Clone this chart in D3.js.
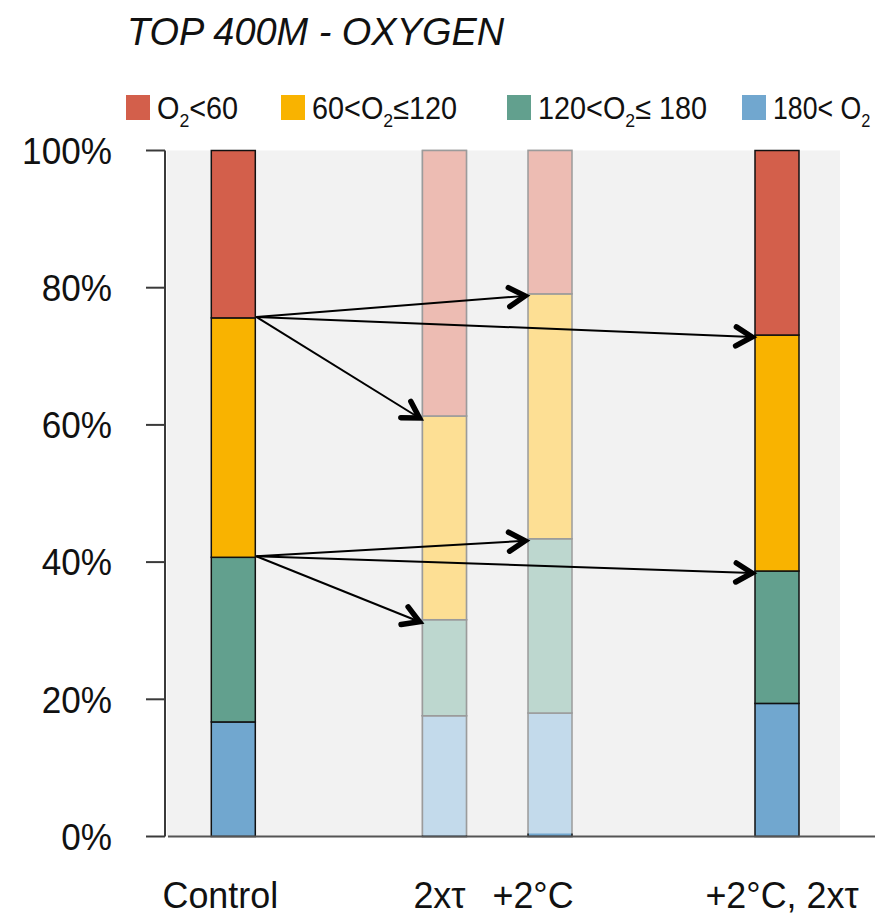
<!DOCTYPE html>
<html>
<head>
<meta charset="utf-8">
<script src="https://cdn.jsdelivr.net/npm/d3@7/dist/d3.min.js"></script>
<style>
  html, body { margin: 0; padding: 0; background: #fff; }
  svg { display: block; font-family: "Liberation Sans", Arial, Helvetica, sans-serif; }
</style>
</head>
<body>
<svg id="chart" width="875" height="918"></svg>
<script>
// Scenario categories and their slot along the x axis
const categories = ["Control", "2x\u03C4", "+2\u00B0C", "+2\u00B0C, 2x\u03C4"];
const slots = [0, 2, 3, 5.15];
const faded = [false, true, true, false];

// Share of the top 400 m (%) in each oxygen class
const o2Low = [24.4, 38.7, 20.9, 26.9];      // O2 < 60
const o2MidLow = [34.9, 29.7, 35.7, 34.4];   // 60 < O2 <= 120
const o2MidHigh = [24.0, 14.0, 25.4, 19.3];  // 120 < O2 <= 180
const o2High = [16.7, 17.6, 18.0, 19.4];     // 180 < O2

const yTicks = [0, 20, 40, 60, 80, 100];
const classColors = ["#d35f4b", "#f9b300", "#62a08e", "#71a7cf"];

const svg = d3.select("#chart");

// Slightly condensed text, drawn in a scaled group
function condensed(parent, x, yPos, sx, size) {
  return parent.append("g")
    .attr("transform", `translate(${x},${yPos}) scale(${sx},1)`)
    .append("text").attr("x", 0).attr("y", 0)
    .attr("font-size", size).attr("fill", "#111");
}

// Title
condensed(svg, 127, 45, 0.96, 39.5).attr("font-style", "italic")
  .text("TOP 400M - OXYGEN");

// Legend
const legendItems = [
  { color: classColors[0], x: 126, sx: 0.93, parts: [["O", 0], ["2", 1], ["<60", 0]] },
  { color: classColors[1], x: 281, sx: 0.93, parts: [["60<O", 0], ["2", 1], ["\u2264120", 0]] },
  { color: classColors[2], x: 507, sx: 0.93, parts: [["120<O", 0], ["2", 1], ["\u2264 180", 0]] },
  { color: classColors[3], x: 742, sx: 0.86, parts: [["180< O", 0], ["2", 1]] }
];
const lg = svg.append("g");
legendItems.forEach(it => {
  lg.append("rect").attr("x", it.x).attr("y", 95).attr("width", 24).attr("height", 25)
    .attr("fill", it.color);
  const t = condensed(lg, it.x + 31, 119, it.sx, 31);
  it.parts.forEach(([s, sub], k) => {
    const ts = t.append("tspan").text(s);
    if (sub) ts.attr("font-size", 19).attr("dy", 8);
    else if (k > 0) ts.attr("dy", -8);
  });
});

// Scales
const y = d3.scaleLinear().domain([0, 100]).range([836.5, 150.5]);
const x = d3.scaleLinear().domain([0, 5.15]).range([233.3, 777]);
const barW = 44;

// Plot panel background
svg.append("rect").attr("x", 167).attr("y", y(100)).attr("width", 673)
  .attr("height", y(0) - y(100)).attr("fill", "#f2f2f2");

// Stacked data, bottom class first
const rows = categories.map((c, i) => ({
  cat: c, i,
  high: o2High[i], midHigh: o2MidHigh[i], midLow: o2MidLow[i], low: o2Low[i]
}));
const keys = ["high", "midHigh", "midLow", "low"];
const keyColor = { high: classColors[3], midHigh: classColors[2], midLow: classColors[1], low: classColors[0] };
const stacked = d3.stack().keys(keys)(rows);

const bars = svg.append("g");
stacked.forEach(layer => {
  bars.selectAll(null).data(layer).enter().append("rect")
    .attr("x", d => x(slots[d.data.i]) - barW / 2)
    .attr("y", d => y(d[1]))
    .attr("width", barW)
    .attr("height", d => y(d[0]) - y(d[1]))
    .attr("fill", keyColor[layer.key])
    .attr("stroke", "#111").attr("stroke-width", 1.5);
});

// Wash out the single-factor scenarios
rows.filter(r => faded[r.i]).forEach(r => {
  bars.append("rect")
    .attr("x", x(slots[r.i]) - barW / 2 - 1)
    .attr("y", y(100) - 1)
    .attr("width", barW + 2)
    .attr("height", y(0) - y(100) - (r.i === 2 ? 2 : 0))
    .attr("fill", "#fff").attr("opacity", 0.58);
});

// Axes
const axisColor = "#3a3a3a";
svg.append("line").attr("x1", 165).attr("x2", 165).attr("y1", y(100)).attr("y2", y(0))
  .attr("stroke", axisColor).attr("stroke-width", 2);
svg.append("line").attr("x1", 168).attr("x2", 875).attr("y1", y(0)).attr("y2", y(0))
  .attr("stroke", "#555").attr("stroke-width", 2.2);
const yAxis = svg.append("g");
yTicks.forEach(v => {
  yAxis.append("line").attr("x1", 146).attr("x2", 165).attr("y1", y(v)).attr("y2", y(v))
    .attr("stroke", axisColor).attr("stroke-width", 2);
  condensed(yAxis, 112, y(v), 0.95, 37).attr("dy", "0.36em")
    .attr("text-anchor", "end")
    .text(v + "%");
});

// Category labels
const labelShift = [-13, -5, -17, 5];
categories.forEach((c, i) => {
  condensed(svg, x(slots[i]) + labelShift[i], 908, 0.97, 37)
    .attr("text-anchor", "middle")
    .text(c);
});

// Arrows from the control class boundaries to the same boundaries in each scenario
const defs = svg.append("defs");
defs.append("marker").attr("id", "chev")
  .attr("viewBox", "-24 -14 30 28").attr("refX", 0).attr("refY", 0)
  .attr("markerWidth", 30).attr("markerHeight", 28)
  .attr("markerUnits", "userSpaceOnUse").attr("orient", "auto")
  .append("path").attr("d", "M-16,-9.5 L0,0 L-16,9.5")
  .attr("fill", "none").attr("stroke", "#000").attr("stroke-width", 5.5)
  .attr("stroke-linecap", "round").attr("stroke-linejoin", "miter");

const boundaries = [
  r => r.high + r.midHigh + r.midLow,
  r => r.high + r.midHigh
];
const arrows = svg.append("g");
boundaries.forEach(fn => {
  const src = rows[0];
  [1, 2, 3].forEach(j => {
    const tgt = rows[j];
    arrows.append("line")
      .attr("x1", x(slots[0]) + barW / 2 + 1).attr("y1", y(fn(src)) - 1)
      .attr("x2", x(slots[j]) - barW / 2 - 3).attr("y2", y(fn(tgt)) + 2)
      .attr("stroke", "#000").attr("stroke-width", 2)
      .attr("marker-end", "url(#chev)");
  });
});
</script>
</body>
</html>
